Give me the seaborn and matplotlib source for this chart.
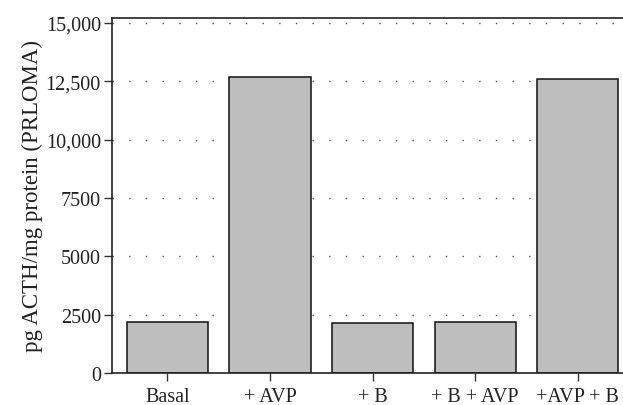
import matplotlib
matplotlib.use("Agg")
import matplotlib.pyplot as plt
import seaborn as sns
import pandas as pd

categories = ["Basal", "+ AVP", "+ B", "+ B + AVP", "+AVP + B"]
values = [2170, 12670, 2125, 2170, 12590]
y_ticks = [0, 2500, 5000, 7500, 10000, 12500, 15000]
y_tick_labels = ["0", "2500", "5000", "7500", "10,000", "12,500", "15,000"]

df = pd.DataFrame({"cond": categories, "val": values})

sns.set_theme(style="white")
plt.rcParams["font.family"] = ["Liberation Serif", "DejaVu Serif"]

fig = plt.figure(figsize=(6.23, 4.06), dpi=100)
ax = fig.add_axes([112/623, 32/406, 511/623, 355/406])

sns.barplot(data=df, x="cond", y="val", ax=ax, color="#bebebe",
            edgecolor="#111111", linewidth=1.1, width=0.79, saturation=1)
for p in ax.patches:
    p.set_facecolor("#bebebe")

ax.set_xlim(-0.54, 4.44)
ax.set_ylim(0, 15214)
ax.set_yticks(y_ticks)
ax.set_yticklabels(y_tick_labels)
for y in y_ticks[1:]:
    ax.axhline(y, color="#555555", linestyle=(0, (1, 11)), linewidth=1.0, zorder=0)

ax.set_xlabel("")
ax.set_ylabel("pg ACTH/mg protein (PRLOMA)", fontsize=16.5, color="#222222", labelpad=2)
ax.tick_params(axis="both", which="major", direction="out", length=6, width=1.0,
               color="#333333", labelsize=14.5, labelcolor="#222222",
               bottom=True, left=True)
ax.tick_params(axis="y", pad=2)
ax.tick_params(axis="x", pad=4)

for s in ["left", "bottom", "top"]:
    ax.spines[s].set_visible(True)
    ax.spines[s].set_color("#222222")
    ax.spines[s].set_linewidth(1.2)
ax.spines["right"].set_visible(False)

fig.savefig("out.png", dpi=100)
